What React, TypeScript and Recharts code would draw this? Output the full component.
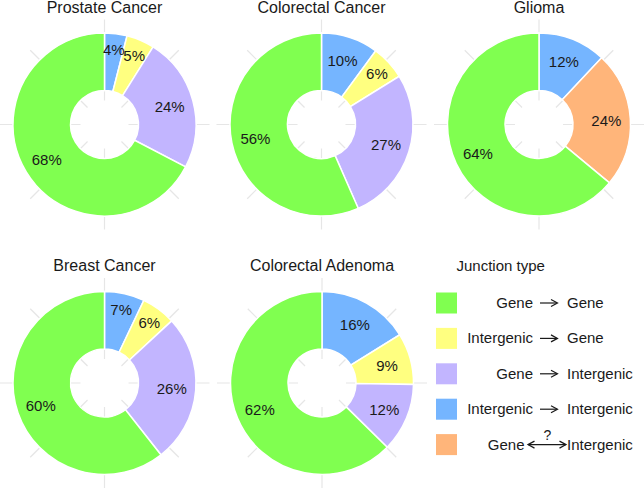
import { PieChart, Pie, Cell } from "recharts";

// slice order, clockwise from 12 o'clock
const fourTypes = ["Intergenic → Intergenic", "Intergenic → Gene", "Gene → Intergenic", "Gene → Gene"];
const gliomaTypes = ["Intergenic → Intergenic", "Gene ↔ Intergenic", "Gene → Gene"];

const prostateValues = [4, 5, 24, 68];
const colorectalValues = [10, 6, 27, 56];
const gliomaValues = [12, 24, 64];
const breastValues = [7, 6, 26, 60];
const adenomaValues = [16, 9, 12, 62];

const legendLeft = ["Gene", "Intergenic", "Gene", "Intergenic", "Gene"];
const legendRight = ["Gene", "Gene", "Intergenic", "Intergenic", "Intergenic"];
const legendTypes = ["Gene → Gene", "Intergenic → Gene", "Gene → Intergenic", "Intergenic → Intergenic", "Gene ↔ Intergenic"];

const COLORS: Record<string, string> = {
  "Gene → Gene": "#80FF50",
  "Intergenic → Gene": "#FFFF80",
  "Gene → Intergenic": "#C2B5FF",
  "Intergenic → Intergenic": "#75B5FF",
  "Gene ↔ Intergenic": "#FFB57A",
};

const FONT = "'Liberation Sans', Arial, sans-serif";
const INNER = 34;
const OUTER = 91.5;

const panels = [
  { title: "Prostate Cancer", types: fourTypes, values: prostateValues, cx: 104.5, cy: 124.5 },
  { title: "Colorectal Cancer", types: fourTypes, values: colorectalValues, cx: 321.5, cy: 124.5 },
  { title: "Glioma", types: gliomaTypes, values: gliomaValues, cx: 539, cy: 124.5 },
  { title: "Breast Cancer", types: fourTypes, values: breastValues, cx: 104.5, cy: 383 },
  { title: "Colorectal Adenoma", types: fourTypes, values: adenomaValues, cx: 322, cy: 383 },
];

const RAD = Math.PI / 180;

function PctLabel(props: any) {
  const { cx, cy, midAngle, value } = props;
  // thin slices get their label pushed out a bit, like the original
  const r = value < 8 ? 75.5 : 67.5;
  const x = cx + r * Math.cos(-midAngle * RAD);
  const y = cy + r * Math.sin(-midAngle * RAD);
  return (
    <text x={x} y={y} textAnchor="middle" dominantBaseline="central" fill="#1a1a1a" fontSize={15} fontFamily={FONT}>
      {value}%
    </text>
  );
}

export default function App() {
  const rows = legendTypes.map((t, i) => ({ t, y: 303 + i * 35.4 }));
  return (
    <div style={{ position: "absolute", left: 0, top: 0, width: 644, height: 488, background: "#fff", overflow: "hidden" }}>
      <svg width={644} height={488} style={{ position: "absolute", left: 0, top: 0 }}>
        {panels.map((p) =>
          [0, 45, 90, 135, 180, 225, 270, 315].map((a) => (
            <line
              key={p.title + a}
              x1={p.cx + 24 * Math.cos(a * RAD)}
              y1={p.cy + 24 * Math.sin(a * RAD)}
              x2={p.cx + 105 * Math.cos(a * RAD)}
              y2={p.cy + 105 * Math.sin(a * RAD)}
              stroke="#e6e6e6"
              strokeWidth={1.2}
            />
          ))
        )}
      </svg>
      <div style={{ position: "absolute", left: 0, top: 0 }}>
        <PieChart width={644} height={488} margin={{ top: 0, right: 0, bottom: 0, left: 0 }}>
          {panels.map((p) => (
            <Pie
              key={p.title}
              data={p.types.map((t, i) => ({ name: t, value: p.values[i] }))}
              dataKey="value"
              cx={p.cx}
              cy={p.cy}
              innerRadius={INNER}
              outerRadius={OUTER}
              startAngle={90}
              endAngle={-270}
              stroke="#fff"
              strokeWidth={1.5}
              label={PctLabel}
              labelLine={false}
              isAnimationActive={false}
            >
              {p.types.map((t) => (
                <Cell key={t} fill={COLORS[t]} />
              ))}
            </Pie>
          ))}
        </PieChart>
      </div>
      <svg width={644} height={488} style={{ position: "absolute", left: 0, top: 0, pointerEvents: "none" }} fontFamily={FONT}>
        {panels.map((p, i) => (
          <text key={p.title} x={p.cx} y={i < 3 ? 13 : 271} textAnchor="middle" fontSize={16} fill="#1a1a1a">
            {p.title}
          </text>
        ))}
        <text x={456.5} y={271} fontSize={15} fill="#1a1a1a">Junction type</text>
        {rows.map((r, i) => (
          <g key={r.t}>
            <rect x={436} y={r.y - 10.5} width={21} height={21} fill={COLORS[r.t]} />
            <text x={i === 4 ? 524.5 : 533} y={r.y + 5} textAnchor="end" fontSize={15} fill="#1a1a1a">{legendLeft[i]}</text>
            <text x={567} y={r.y + 5} fontSize={15} fill="#1a1a1a">{legendRight[i]}</text>
            {i < 4 ? (
              <g stroke="#1a1a1a" strokeWidth={1.2} fill="none">
                <line x1={540} y1={r.y} x2={557} y2={r.y} />
                <polyline points={`${551},${r.y - 3.5} ${557.5},${r.y} ${551},${r.y + 3.5}`} />
              </g>
            ) : (
              <g>
                <g stroke="#1a1a1a" strokeWidth={1.2} fill="none">
                  <line x1={528} y1={r.y} x2={566} y2={r.y} />
                  <polyline points={`${534.5},${r.y - 3.5} ${528},${r.y} ${534.5},${r.y + 3.5}`} />
                  <polyline points={`${559.5},${r.y - 3.5} ${566},${r.y} ${559.5},${r.y + 3.5}`} />
                </g>
                <text x={547.5} y={r.y - 5} textAnchor="middle" fontSize={14} fill="#1a1a1a">?</text>
              </g>
            )}
          </g>
        ))}
      </svg>
    </div>
  );
}
